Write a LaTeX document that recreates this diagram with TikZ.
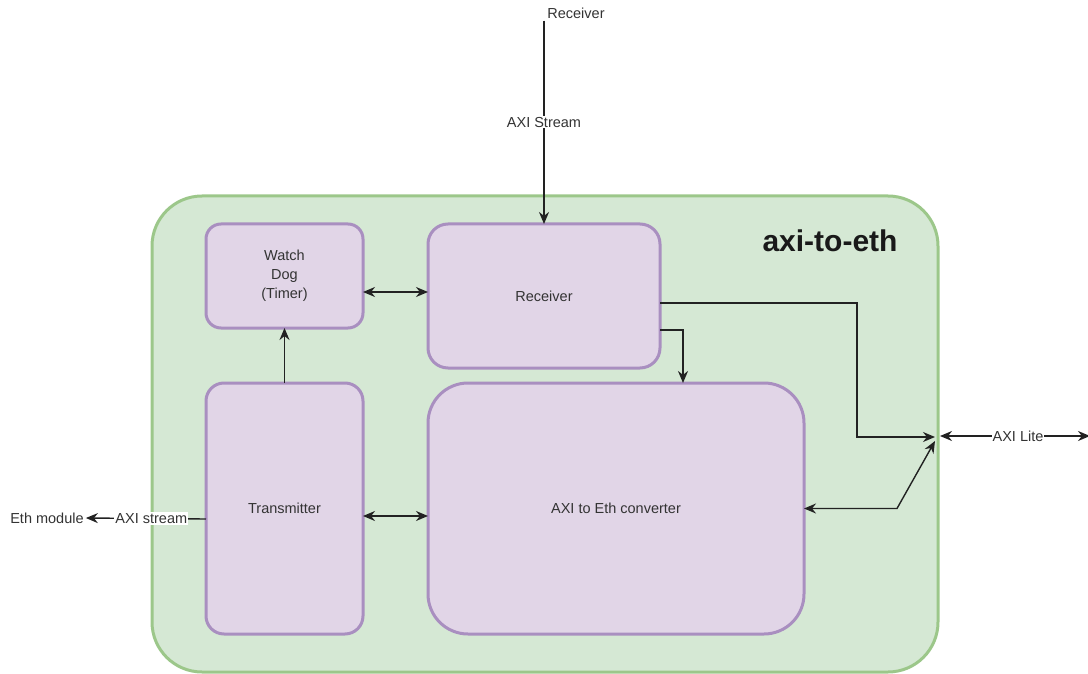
\documentclass[tikz,border=0pt]{standalone}
\usepackage{fontspec}
\setmainfont{Liberation Sans}
\usetikzlibrary{arrows.meta,calc}
\definecolor{grfill}{HTML}{D5E8D4}
\definecolor{grline}{HTML}{9CC78A}
\definecolor{pufill}{HTML}{E1D5E7}
\definecolor{puline}{HTML}{A98FC0}
\definecolor{wire}{HTML}{222222}
\definecolor{txt}{HTML}{333333}
\tikzset{
  container/.style={draw=grline, fill=grfill, line width=3pt, rounded corners=50pt,
    minimum width=786pt, minimum height=476pt, inner sep=0pt, outer sep=0pt},
  block/.style={draw=puline, fill=pufill, line width=3pt, inner sep=0pt, outer sep=0pt,
    align=center, font=\fontsize{14.5}{19}\selectfont, text=txt},
  plain/.style={font=\fontsize{14.5}{19}\selectfont, text=txt, inner sep=2pt},
  lbl/.style={plain, fill=white, inner sep=1pt},
  wirestyle/.style={draw=wire, line width=1.4pt},
  tip/.style={},
  arr/.style={wirestyle, -{Stealth[length=12pt,width=10pt]}},
  biarr/.style={wirestyle, {Stealth[length=12pt,width=10pt]}-{Stealth[length=12pt,width=10pt]}},
}
\begin{document}
\begin{tikzpicture}[x=1pt, y=-1pt]
\useasboundingbox (0,0) rectangle (1088,674);

% enclosing module
\node[container] (top) at (545,434) {};
\node[font=\fontsize{30}{34}\selectfont\bfseries, text=black!90] (title) at (830,241) {axi-to-eth};

% inner blocks
\node[block, rounded corners=15pt, minimum width=157pt, minimum height=104pt] (wd) at (284.5,276) {Watch\\Dog\\(Timer)};
\node[block, rounded corners=20pt, minimum width=232pt, minimum height=144pt] (rx) at (544,296) {Receiver};
\node[block, rounded corners=18pt, minimum width=157pt, minimum height=251pt] (tx) at (284.5,508.5) {Transmitter};
\node[block, rounded corners=40pt, minimum width=376pt, minimum height=251pt] (conv) at (616,508.5) {AXI to Eth converter};

% external endpoints
\node[plain] (rxsrc) at (576,13) {Receiver};
\node[plain] (eth) at (47,518) {Eth module};
\coordinate (j) at (935,437);
\coordinate (jr) at (940,436);
\coordinate (axl) at (1090,436);

% connections
\draw[arr] (rx.north |- rxsrc.south) -- (rx.north) node[lbl, pos=0.5] {AXI Stream};
\draw[biarr] ([yshift=-16pt]wd.east) -- ([yshift=-16pt]wd.east -| rx.west);
\draw[arr] (tx.north) -- (wd.south);
\draw[arr] ([yshift=-34pt]rx.east) -| ([xshift=67pt]conv.north);
\draw[arr] ([yshift=-7pt]rx.east) -- ++(197pt,0) |- (j);
\draw[biarr] (conv.east) -- ++(93pt,0) -- ([yshift=-4pt]j);
\draw[biarr] (jr) -- (axl) node[lbl, pos=0.52] {AXI Lite};
\draw[biarr] ([yshift=-7.5pt]tx.east) -- ([yshift=-7.5pt]tx.east -| conv.west);
\draw[arr] ([yshift=-10.5pt]tx.west) -- (eth.east) node[lbl, pos=0.455] {AXI stream};
\end{tikzpicture}
\end{document}
